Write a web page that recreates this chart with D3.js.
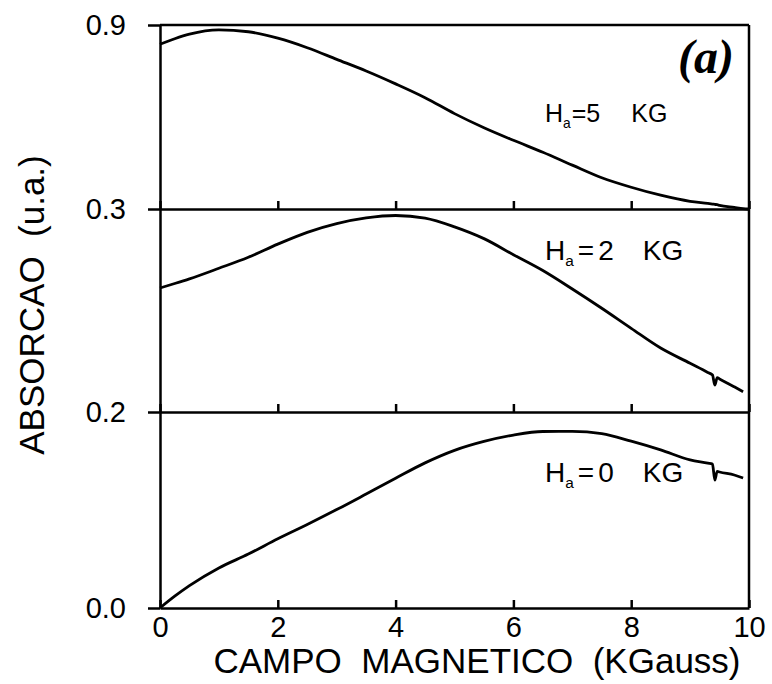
<!DOCTYPE html>
<html>
<head>
<meta charset="utf-8">
<script src="https://cdn.jsdelivr.net/npm/d3@7"></script>
<style>
  html, body { margin: 0; padding: 0; background: #fff; }
  svg { display: block; }
  .axis path, .axis line { stroke: #000; stroke-width: 2.5; }
  .axis text { font-family: "Liberation Sans", Arial, sans-serif; fill: #000; }
</style>
</head>
<body>
<svg id="chart" width="772" height="684"></svg>
<script>
// Magnetic field (kG) at which absorption was sampled
const fieldKG = [0, 0.25, 0.5, 1, 1.5, 2, 2.5, 3, 3.5, 4, 4.5, 5, 5.5, 6, 6.5, 7, 7.5, 8, 8.5, 9,
                 9.3, 9.38, 9.42, 9.46, 9.5, 9.75, 9.9, 10];

// Absorption (a.u.) for each applied field Ha
const absHa5 = [0.837, 0.855, 0.870, 0.884, 0.878, 0.857, 0.826, 0.788, 0.750, 0.708, 0.663, 0.611, 0.565, 0.524,
                0.485, 0.443, 0.402, 0.371, 0.345, 0.325, 0.318, 0.316, 0.315, 0.314, 0.312, 0.305, 0.301, 0.300];
const absHa2 = [0.2611, 0.2633, 0.2656, 0.2708, 0.2762, 0.2827, 0.2885, 0.2928, 0.2956, 0.2968, 0.2955, 0.2912,
                0.2854, 0.2775, 0.2697, 0.2606, 0.2511, 0.2412, 0.2315, 0.2240, 0.2195, 0.2182, 0.2133, 0.2169,
                0.2163, 0.2124, 0.2100, null];
const absHa0 = [0.0, 0.012, 0.0228, 0.0409, 0.0550, 0.0706, 0.0852, 0.1004, 0.1163, 0.1324, 0.1481, 0.1609,
                0.1700, 0.1765, 0.1801, 0.1802, 0.1779, 0.1702, 0.1613, 0.1511, 0.1478, 0.1468, 0.1306, 0.1395,
                0.1388, 0.1357, 0.1327, null];

const appliedField = ["5", "2", "0"];   // Ha in kG, top to bottom
const xTicks = [0, 2, 4, 6, 8, 10];
const yTicks = [0.0, 0.2, 0.3, 0.9];     // panel boundaries of the stacked plot

const svg = d3.select("#chart");
const left = 160, right = 749;

const x = d3.scaleLinear().domain([0, 10]).range([left, right]);
// piecewise scale: each panel has its own range of absorption
const y = d3.scaleLinear().domain(yTicks).range([608, 412, 209, 25]);

// bottom axes of the three panels (ticks pointing inward)
[0.0, 0.2, 0.3].forEach(b => {
  svg.append("g")
    .attr("class", "axis")
    .attr("transform", `translate(0,${y(b)})`)
    .call(d3.axisBottom(x)
      .tickValues(xTicks)
      .tickSizeInner(-8)
      .tickSizeOuter(0)
      .tickPadding(8)
      .tickFormat(b === 0 ? d3.format("d") : () => ""))
    .call(g => g.selectAll("text").attr("font-size", 29));
});

// left axis
svg.append("g")
  .attr("class", "axis")
  .attr("transform", `translate(${left},0)`)
  .call(d3.axisLeft(y)
    .tickValues(yTicks)
    .tickFormat(d3.format(".1f"))
    .tickSize(12)
    .tickSizeOuter(0)
    .tickPadding(22))
  .call(g => g.selectAll("text").attr("font-size", 29));

// top and right frame
svg.append("line").attr("x1", left).attr("x2", right).attr("y1", y(0.9)).attr("y2", y(0.9))
  .attr("stroke", "#000").attr("stroke-width", 2.5);
svg.append("line").attr("x1", right).attr("x2", right).attr("y1", y(0.9)).attr("y2", y(0))
  .attr("stroke", "#000").attr("stroke-width", 2.5);

// curves
const line = d3.line()
  .defined(d => d[1] != null)
  .x(d => x(d[0]))
  .y(d => y(d[1]))
  .curve(d3.curveMonotoneX);

[absHa5, absHa2, absHa0].forEach(vals => {
  svg.append("path")
    .datum(fieldKG.map((f, i) => [f, vals[i]]))
    .attr("fill", "none")
    .attr("stroke", "#000")
    .attr("stroke-width", 2.8)
    .attr("stroke-linejoin", "round")
    .attr("d", line);
});

// curve labels "Ha=.. KG"
const labelStyle = [
  { x: 545, y: 122, size: 25, eq: 1, val: 0, kg: 31 },
  { x: 545, y: 260, size: 28, eq: 4, val: 4, kg: 29 },
  { x: 545, y: 482, size: 28, eq: 4, val: 4, kg: 29 }
];
appliedField.forEach((h, i) => {
  const s = labelStyle[i];
  const t = svg.append("text")
    .attr("x", s.x).attr("y", s.y)
    .attr("font-family", "'Liberation Sans', Arial, sans-serif")
    .attr("font-size", s.size)
    .attr("fill", "#000");
  t.append("tspan").text("H");
  t.append("tspan").attr("font-size", s.size * 0.55).attr("dy", 6).text("a");
  t.append("tspan").attr("dy", -6).attr("dx", s.eq).text("=");
  t.append("tspan").attr("dx", s.val).text(h);
  t.append("tspan").attr("dx", s.kg).text("KG");
});

// panel tag
svg.append("text")
  .attr("x", 706).attr("y", 73)
  .attr("text-anchor", "middle")
  .attr("font-family", "'Liberation Serif', 'Times New Roman', serif")
  .attr("font-style", "italic")
  .attr("font-weight", "bold")
  .attr("font-size", 48)
  .text("(a)");

// axis titles
svg.append("text")
  .attr("x", 477).attr("y", 673)
  .attr("text-anchor", "middle")
  .attr("font-family", "'Liberation Sans', Arial, sans-serif")
  .attr("font-size", 35)
  .style("white-space", "pre")
  .text("CAMPO  MAGNETICO  (KGauss)");

svg.append("text")
  .attr("transform", "translate(44,305) rotate(-90)")
  .attr("text-anchor", "middle")
  .attr("font-family", "'Liberation Sans', Arial, sans-serif")
  .attr("font-size", 35)
  .style("white-space", "pre")
  .text("ABSORCAO  (u.a.)");
</script>
</body>
</html>
